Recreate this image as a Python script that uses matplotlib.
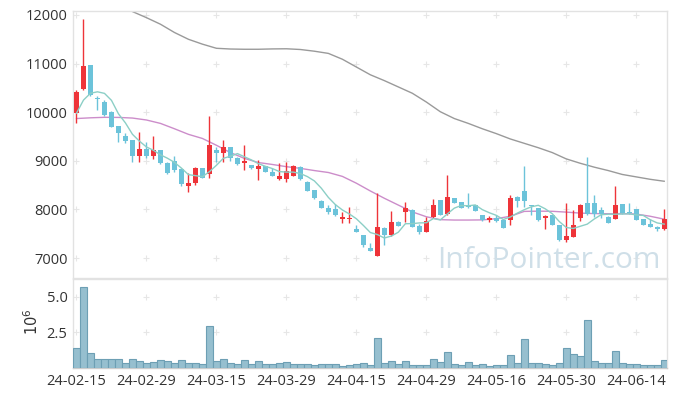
import numpy as np
import pandas as pd
import matplotlib
matplotlib.use("Agg")
import matplotlib.pyplot as plt

plt.rcParams['font.family'] = ['Open Sans', 'DejaVu Sans']

## Data (price in won, volume in millions)
tick_labels = ["24-02-15", "24-02-29", "24-03-15", "24-03-29", "24-04-15",
               "24-04-29", "24-05-16", "24-05-30", "24-06-14"]

opens = [9990, 10470, 10971, 10290, 10217, 10011, 9716, 9510, 9428, 9105,
         9236, 9105, 9222, 8961, 8996, 8824, 8488, 8536, 8845, 8721,
         9222, 9167, 9277, 9064, 8948, 8913, 8838, 8893, 8776, 8618,
         8618, 8694, 8879, 8570, 8399, 8173, 8035, 8008, 7795, 7795,
         7596, 7473, 7212, 7041, 7624, 7473, 7734, 7953, 7987, 7665,
         7541, 7836, 8193, 7905, 8228, 8145, 8090, 8090, 7884, 7782,
         7815, 7782, 7782, 8262, 8379, 8085, 8022, 7830, 7884, 7679,
         7370, 7439, 7830, 8138, 8138, 7987, 7850, 7809, 8111, 7953,
         8001, 7795, 7693, 7645, 7590]
highs = [10457, 11911, 10980, 10333, 10251, 10020, 9720, 9565, 9435, 9599,
         9394, 9510, 9230, 8986, 9098, 8860, 8742, 8870, 8855, 9925,
         9277, 9428, 9285, 9070, 9325, 8920, 9016, 8900, 8850, 8961,
         8982, 8905, 8890, 8590, 8410, 8185, 8100, 8111, 7953, 8056,
         7679, 7480, 7302, 8330, 7635, 7967, 7760, 8159, 8000, 7700,
         7850, 8207, 8200, 8708, 8245, 8160, 8330, 8100, 7890, 7870,
         7880, 7795, 8300, 8270, 8893, 8095, 8040, 7884, 7890, 7685,
         8125, 7987, 8111, 9085, 8296, 8056, 7860, 8481, 8120, 8125,
         8010, 7800, 7795, 7650, 8001]
lows = [9784, 10450, 10340, 10045, 9922, 9690, 9394, 9360, 8982, 8982,
        9050, 9030, 8940, 8721, 8776, 8481, 8365, 8500, 8640, 8653,
        8982, 8982, 9000, 8910, 8810, 8830, 8604, 8765, 8680, 8604,
        8557, 8680, 8610, 8370, 8225, 8025, 7900, 7870, 7713, 7713,
        7534, 7233, 7140, 7041, 7267, 7460, 7650, 7747, 7640, 7490,
        7530, 7820, 7880, 7890, 8130, 8020, 8022, 7960, 7760, 7740,
        7745, 7610, 7685, 8056, 8056, 7890, 7770, 7603, 7670, 7360,
        7336, 7425, 7761, 7884, 7837, 7816, 7713, 7795, 7910, 7900,
        7775, 7670, 7640, 7562, 7580]
closes = [10422, 10950, 10354, 10270, 9942, 9702, 9565, 9414, 9105, 9236,
          9105, 9222, 8948, 8756, 8810, 8515, 8550, 8845, 8653, 9325,
          9167, 9277, 9050, 8927, 8996, 8845, 8893, 8776, 8694, 8687,
          8790, 8893, 8625, 8385, 8241, 8035, 7953, 7884, 7836, 7830,
          7541, 7267, 7151, 7631, 7473, 7740, 7665, 8022, 7645, 7541,
          7761, 8090, 7884, 8262, 8138, 8035, 8056, 7973, 7782, 7816,
          7770, 7624, 8228, 8180, 8173, 8065, 7782, 7864, 7679, 7370,
          7452, 7679, 8090, 7898, 7898, 7898, 7727, 8090, 7919, 7919,
          7782, 7679, 7645, 7590, 7795]
volumes = [1.37, 5.67, 1.02, 0.60, 0.60, 0.60, 0.60, 0.33, 0.60, 0.46,
           0.33, 0.39, 0.53, 0.46, 0.33, 0.53, 0.33, 0.33, 0.26, 2.96,
           0.46, 0.60, 0.33, 0.26, 0.53, 0.26, 0.46, 0.26, 0.26, 0.33,
           0.39, 0.26, 0.26, 0.26, 0.18, 0.26, 0.26, 0.26, 0.12, 0.19,
           0.26, 0.33, 0.19, 2.13, 0.33, 0.46, 0.26, 0.46, 0.19, 0.19,
           0.19, 0.60, 0.39, 1.09, 0.26, 0.19, 0.39, 0.19, 0.26, 0.12,
           0.19, 0.19, 0.88, 0.33, 2.06, 0.33, 0.33, 0.26, 0.19, 0.33,
           1.37, 0.95, 0.81, 3.38, 0.46, 0.33, 0.33, 1.16, 0.33, 0.26,
           0.26, 0.19, 0.19, 0.19, 0.53]

# first 4 values of the 5-day average (earlier closes are off chart)
ma5_head = [9980, 10250, 10390, 10420]

# 20-day average, read every 2nd bar
ma20_x = list(range(0, 85, 2))
ma20 = [9870, 9885, 9895, 9893, 9880, 9840, 9770, 9660, 9545, 9460,
        9320, 9170, 9050, 8965, 8925, 8880, 8845, 8800, 8760, 8680,
        8540, 8380, 8230, 8090, 7950, 7850, 7790, 7782, 7782, 7785,
        7810, 7860, 7960, 7965, 7962, 7945, 7925, 7915, 7912, 7915,
        7905, 7860, 7800]

# long average (grey), read every 2nd bar
malong_x = list(range(6, 85, 2))
malong = [12250, 12070, 11945, 11810, 11640, 11500, 11400, 11315, 11300, 11295,
          11295, 11302, 11305, 11290, 11255, 11210, 11090, 10930, 10770, 10650,
          10520, 10390, 10210, 10010, 9870, 9770, 9660, 9560, 9450, 9360,
          9270, 9170, 9040, 8950, 8870, 8800, 8720, 8670, 8620, 8580]

n = len(closes)
x = np.arange(n)
ma5 = pd.Series(closes).rolling(5).mean().to_numpy()
ma5[:4] = ma5_head

RED = "#ee3439"
BLUE = "#6cc3da"
GRID = "#e6e6e6"

fig = plt.figure(figsize=(6.77, 3.97), dpi=100, facecolor="white")
W, H = 677.0, 397.0
ax1 = fig.add_axes([73/W, 1-278/H, 594/W, 267/H])
ax2 = fig.add_axes([73/W, 1-368/H, 594/W, 89/H], sharex=ax1)

## Candles
o = np.array(opens); c = np.array(closes)
up = c >= o
cols = np.where(up, RED, BLUE)
ax1.vlines(x, lows, highs, colors=cols, lw=1.0, zorder=3)
body = np.maximum(np.abs(c - o), 15)
ax1.bar(x, body, bottom=np.minimum(o, c), width=0.75, color=cols, zorder=4)

## Moving averages
ax1.plot(x, ma5, color="#8ccfc6", lw=1.0, zorder=5)
ax1.plot(ma20_x, ma20, color="#cc8dca", lw=1.0, zorder=2)
ax1.plot(malong_x, malong, color="#9a9a9a", lw=1.0, zorder=2)

ax1.set_ylim(6590, 12082)
ax1.set_xlim(-0.5, 84.4)
yt = [7000, 8000, 9000, 10000, 11000, 12000]
ax1.set_yticks(yt)
ax1.set_yticklabels([str(v) for v in yt])

## Volume
ax2.bar(x, volumes, width=1.0, color="#96bfcf", edgecolor="#6d9fb4", lw=0.8, zorder=3)
ax2.set_ylim(0, 6.25)
ax2.set_yticks([2.5, 5.0])
ax2.set_yticklabels(["2.5", "5.0"])

xt = list(range(0, 81, 10))
ax2.set_xticks(xt)
ax2.set_xticklabels(tick_labels)

# grid crosses at tick intersections
gx, gy = np.meshgrid(xt, yt)
ax1.plot(gx.ravel(), gy.ravel(), ls="none", marker="+", ms=4, mew=0.8, color=GRID, zorder=1)
gx2, gy2 = np.meshgrid(xt, [2.5, 5.0])
ax2.plot(gx2.ravel(), gy2.ravel(), ls="none", marker="+", ms=4, mew=0.8, color=GRID, zorder=1)

for ax in (ax1, ax2):
    for s in ax.spines.values():
        s.set_color("#e2e2e2")
        s.set_linewidth(1.0)
    ax.tick_params(length=0, labelsize=10.5, colors="#333333", pad=4)
ax1.tick_params(axis="x", labelbottom=False)
ax2.spines["bottom"].set_color("#cccccc")

fig.text(33/W, 1-322/H, r"$10^6$", rotation=90, ha="center", va="center",
         fontsize=10.5, color="#333333")

# watermark
fig.text(660/W, 1-268/H, "InfoPointer.com", ha="right", va="baseline",
         fontsize=21.5, color="#cfdfe8", zorder=0)

fig.savefig("out.png", dpi=100)
